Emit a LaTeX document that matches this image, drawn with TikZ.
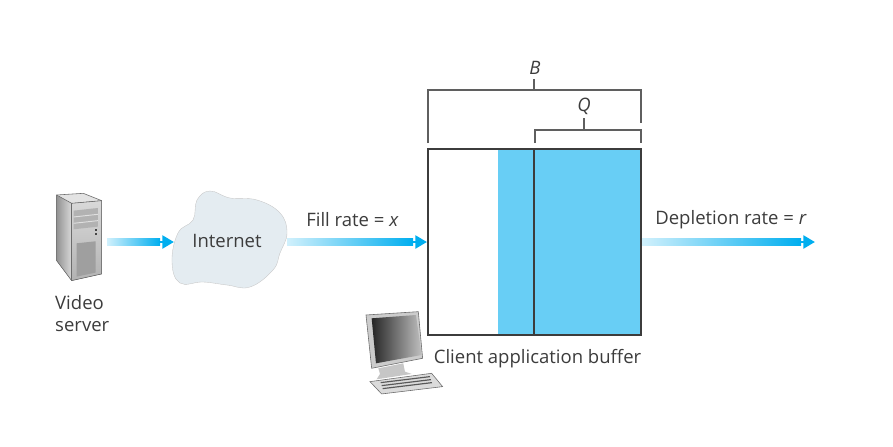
\documentclass[tikz,border=0pt]{standalone}
\usepackage{fontspec}
\setmainfont{Open Sans}
\usepackage{xcolor}
\usepackage{tikz}
\usetikzlibrary{arrows.meta, calc}
\definecolor{flowblue}{RGB}{0, 174, 239}
\definecolor{bufferblue}{RGB}{104, 206, 245}
\definecolor{cloudgray}{RGB}{228, 236, 241}
\definecolor{inkgray}{RGB}{60, 60, 60}
\definecolor{linegray}{RGB}{95, 95, 95}
\tikzset{
    label/.style={text=inkgray, font=\fontsize{15.8}{18.7}\selectfont, inner sep=0pt},
    bracket/.style={linegray, line width=1pt},
    flowline/.style={flowblue, line width=2.4pt, -{Triangle[length=10pt,width=11pt]}},
}
\newcommand{\flowarrow}[2]{
    \draw[flowline] (#1) -- (#2);
    \shade[left color=flowblue!18, right color=flowblue] ($(#1)+(0,-3.4)$) rectangle ($(#2)+(-14,3.4)$);
    \draw[flowblue, line width=1.5pt] ($(#2)+(-15,0)$) -- ($(#2)+(-5,0)$);
}
\begin{document}
\begin{tikzpicture}[x=0.03cm,y=-0.03cm]
    \path[use as bounding box] (0,0) rectangle (893,447);

    % Named end points
    \coordinate (serverout) at (107,242);
    \coordinate (cloudin) at (174,242);
    \coordinate (cloudout) at (287,242);
    \coordinate (bufferin) at (427,242);
    \coordinate (bufferout) at (642,242);
    \coordinate (drain) at (815,242);
    \coordinate (bufTL) at (428,149);
    \coordinate (bufBR) at (641,335);
    \coordinate (blueTL) at (498,149);
    \coordinate (markT) at (534,149);
    \coordinate (markB) at (534,335);

    % Video server (traced, zoom units)
    \begin{scope}[shift={(30,170)},x=0.01cm,y=-0.01cm]
        \fill[left color=gray!85, right color=gray!30] (80,75) -- (125,100) -- (125,332) -- (80,272) -- cycle;
        \fill[gray!22] (80,75) -- (160,70) -- (215,92) -- (125,100) -- cycle;
        \fill[top color=gray!30, bottom color=gray!60] (125,100) -- (215,92) -- (215,312) -- (125,332) -- cycle;
        \draw[gray!85!black, line width=0.5pt] (80,75) -- (160,70) -- (215,92) -- (215,312) -- (125,332) -- (80,272) -- cycle;
        \draw[gray!85!black, line width=0.5pt] (80,75) -- (125,100) -- (215,92);
        \draw[gray!85!black, line width=0.5pt] (125,100) -- (125,332);
        \fill[gray!60] (131,122) -- (204,114) -- (204,170) -- (131,178) -- cycle;
        \draw[gray!25, line width=0.8pt] (131,141) -- (204,133);
        \draw[gray!25, line width=0.8pt] (131,160) -- (204,152);
        \fill[gray!55!black] (195,178) rectangle (200,184);
        \fill[gray!55!black] (195,188) rectangle (200,194);
        \fill[gray!75] (140,220) -- (197,214) -- (197,308) -- (140,320) -- cycle;
    \end{scope}

    % Internet cloud
    \draw[fill=cloudgray, draw=gray!45, line width=0.3pt] plot[smooth cycle, tension=0.7] coordinates {
        (172,262) (178,233) (193,220) (197,200) (210,191) (230,198) (257,200) (280,213)
        (287,233) (280,253) (273,270) (250,287) (227,285) (203,282) (180,283)};
    \node[label] (internet) at (227,241) {Internet};
    \node[label, align=left, anchor=west] (server) at (55,314) {Video\\server};

    % Flow arrows
    \flowarrow{serverout}{cloudin}
    \flowarrow{cloudout}{bufferin}
    \flowarrow{bufferout}{drain}
    \node[label] (fill) at (352.5,220) {Fill rate = \textit{x}};
    \node[label] (depletion) at (731,220) {Depletion rate = \textit{r}};

    % Buffer
    \fill[bufferblue] (blueTL) rectangle (bufBR);
    \draw[inkgray, line width=0.9pt] (bufTL) rectangle (bufBR);
    \draw[inkgray, line width=0.9pt] (markT) -- (markB);
    \node[label] (client) at (537.5,359) {Client application buffer};

    % Brackets
    \coordinate (BL) at (428,143);
    \coordinate (BLtop) at (428,90);
    \coordinate (BRtop) at (641,90);
    \coordinate (BR) at (641,123);
    \coordinate (BT) at (534,79);
    \coordinate (BM) at (534,90);
    \coordinate (QL) at (535,143);
    \coordinate (QLtop) at (535,130);
    \coordinate (QRtop) at (641,130);
    \coordinate (QR) at (641,143);
    \coordinate (QT) at (584,118);
    \coordinate (QM) at (584,130);
    \draw[bracket] (BL) -- (BLtop) -- (BRtop) -- (BR);
    \draw[bracket] (BT) -- (BM);
    \draw[bracket] (QL) -- (QLtop) -- (QRtop) -- (QR);
    \draw[bracket] (QT) -- (QM);
    \node[label] (labelB) at (535,68) {\textit{B}};
    \node[label] (labelQ) at (584,106) {\textit{Q}};

    % Client computer (traced, zoom units)
    \begin{scope}[shift={(350,300)},x=0.01cm,y=-0.01cm]
        \fill[gray!45] (85,205) -- (160,190) -- (165,215) -- (185,222) -- (80,238) -- (90,222) -- cycle;
        \draw[gray!85!black, line width=0.5pt, fill=gray!28] (60,245) -- (245,220) -- (278,260) -- (95,282) -- cycle;
        \foreach \k in {0,1,2} {
            \draw[gray!70!black, line width=1pt] ($(92,248)+(\k*3,\k*9)$) -- ($(240,230)+(\k*3,\k*9)$);
        }
        \draw[gray!85!black, line width=0.5pt, fill=gray!40] (48,45) -- (205,35) -- (218,175) -- (65,205) -- cycle;
        \shade[left color=black!85, right color=gray!50] (65,55) -- (198,45) -- (215,165) -- (78,190) -- cycle;
    \end{scope}
\end{tikzpicture}
\end{document}
